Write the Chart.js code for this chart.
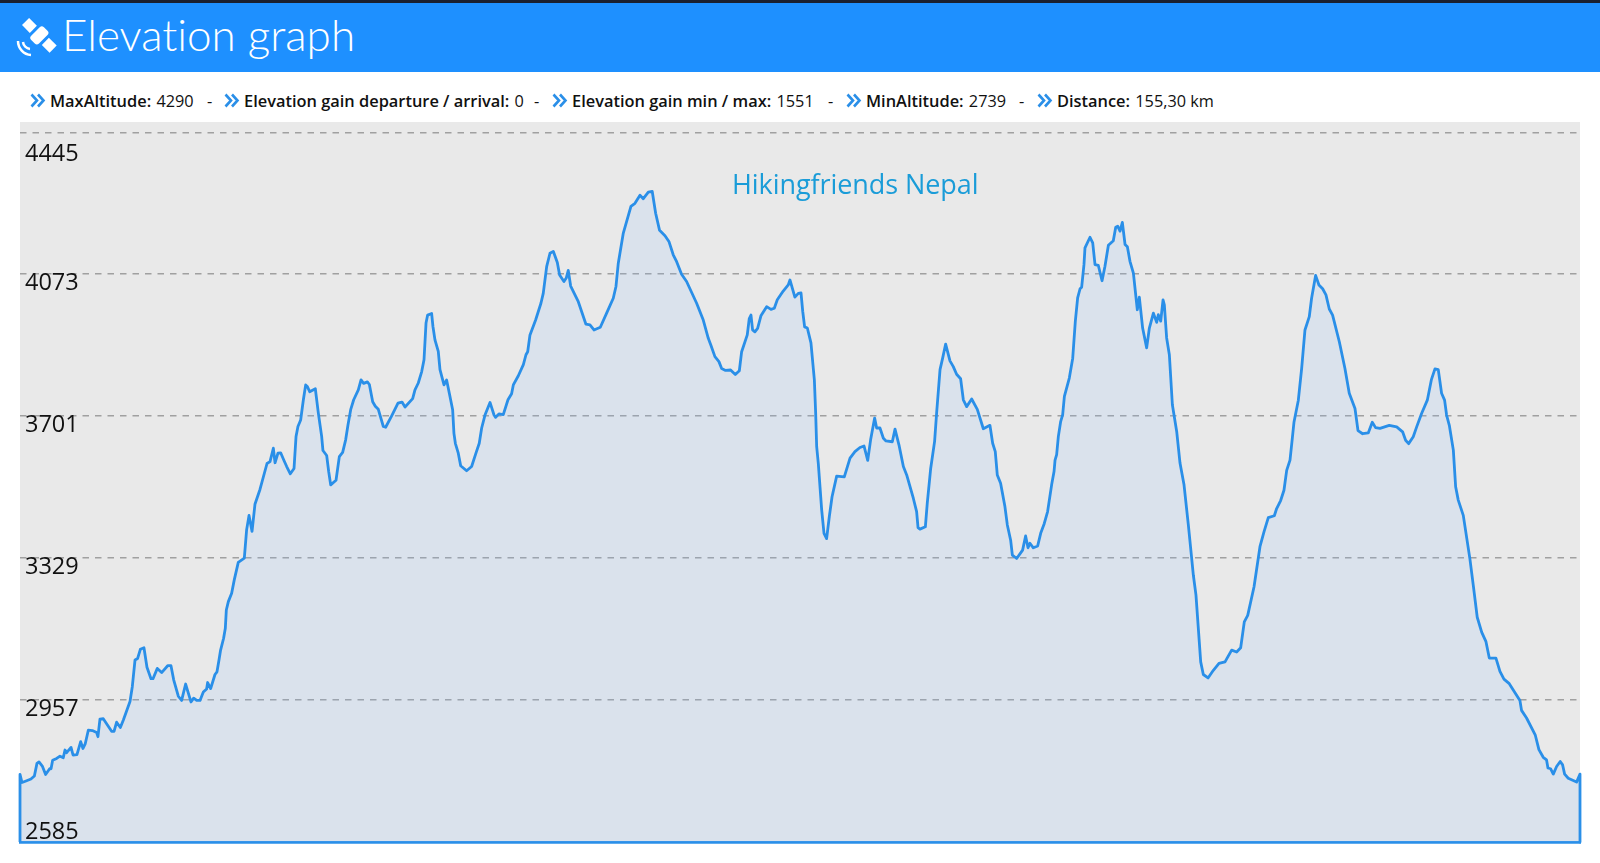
<!DOCTYPE html>
<html>
<head>
  <meta charset="UTF-8">
  <title>Elevation graph</title>
  <script src="https://cdn.jsdelivr.net/npm/chart.js"></script>
  <style>
    html, body { margin: 0; padding: 0; background: #fff; overflow: hidden; }
    body { width: 1600px; height: 863px; position: relative; font-family: "Open Sans", Arial; }
    .topbar { position: absolute; left: 0; top: 0; width: 1600px; height: 72px; background: #1e90ff; border-top: 3px solid #1a2030; box-sizing: border-box; }
    .topbar h1 { position: absolute; left: 62px; top: 3px; margin: 0; color: #fff; font: 300 44px/56px Lato, "Open Sans"; font-variant-ligatures: none; }
    .topbar svg { position: absolute; left: 15px; top: 12px; }
    .info span.item { position: absolute; top: 90px; font-size: 16.4px; line-height: 22px; white-space: nowrap; color: #111; }
    .info b { font-weight: 600; margin-right: 1px; }
    .info i { font-style: normal; font-size: 16.3px; }
    .info svg { position: absolute; top: 93px; }
    .chart-box { position: absolute; left: 16px; top: 122px; width: 1568px; height: 724px; }
    .mark { position: absolute; left: 732px; top: 166px; color: #1a9cd8; font-size: 27px; line-height: 36px; white-space: nowrap; letter-spacing: -0.07px; }
  </style>
</head>
<body>

  <div class="topbar">
    <svg width="42" height="44" viewBox="0 0 42 44" fill="#fff">
      <g transform="rotate(45 24 20)">
        <rect x="19" y="11" width="11" height="18" rx="3"/>
        <rect x="5" y="15" width="11" height="10"/>
        <rect x="33" y="15" width="11" height="10"/>
      </g>
      <path d="M3 26 a14 14 0 0 0 13 14" fill="none" stroke="#fff" stroke-width="2.5"/>
      <path d="M8 27 a8 8 0 0 0 7 7" fill="none" stroke="#fff" stroke-width="2.5"/>
    </svg>
    <h1>Elevation graph</h1>
  </div>

  <div class="info" id="info"></div>

  <div class="chart-box"><canvas id="elevationChart"></canvas></div>
  <div class="mark">Hikingfriends Nepal</div>

  <script>
    // header stats
    const statLabels = ['MaxAltitude:', 'Elevation gain departure / arrival:', 'Elevation gain min / max:', 'MinAltitude:', 'Distance:'];
    const statValues = ['4290', '0', '1551', '2739', '155,30 km'];
    const statLefts = [50, 244, 572, 866, 1057];
    const chevronLefts = [30, 224, 552, 846, 1037];
    const dashLefts = [207, 534, 828, 1019];

    // y axis
    const tickValues = [2585, 2957, 3329, 3701, 4073, 4445];
    const tickNudge = [-10, 9, 9, 9, 9, 22];

    // profile, distance in km and altitude in m
    const distanceKm = [
      0, 0, 0.20, 0.60, 1.09, 1.43, 1.69, 1.89, 2.22, 2.55, 2.95, 3.09, 3.25, 3.65, 3.98, 4.31, 4.48, 4.64, 5.08, 5.28,
      5.67, 6.04, 6.27, 6.50, 6.80, 7.20, 7.63, 7.76, 7.96, 8.29, 9.12, 9.36, 9.62, 9.99, 10.29, 10.95, 11.18, 11.45, 11.71, 11.98,
      12.34, 12.64, 13.04, 13.24, 13.67, 14.10, 14.70, 15.03, 15.30, 15.76, 16.09, 16.49, 17.02, 17.29, 17.59, 17.92, 18.25, 18.58, 18.68, 18.98,
      19.41, 19.61, 19.81, 19.97, 20.27, 20.44, 20.54, 20.74, 21.07, 21.33, 21.73, 22.33, 22.56, 22.80, 23.10, 23.39, 23.89, 24.59, 24.89, 25.22,
      25.39, 25.68, 25.95, 26.28, 26.55, 26.91, 27.28, 27.48, 27.67, 27.94, 28.21, 28.44, 28.60, 28.84, 29.40, 29.70, 30.03, 30.16, 30.53, 30.73,
      30.93, 31.46, 31.79, 32.12, 32.42, 32.65, 32.92, 33.22, 33.68, 33.95, 34.21, 34.58, 34.78, 35.11, 35.37, 35.67, 36.17, 36.40, 37.00, 37.63,
      38.03, 38.33, 39.09, 39.32, 39.65, 39.99, 40.22, 40.42, 40.58, 40.98, 41.11, 41.31, 41.64, 41.81, 42.21, 42.47, 42.74, 43.07, 43.20, 43.34,
      43.63, 43.87, 44.46, 44.96, 45.39, 45.72, 45.96, 46.29, 46.79, 47.19, 47.35, 47.68, 48.11, 48.58, 48.94, 49.11, 49.61, 50.11, 50.37, 50.54,
      50.77, 51.33, 51.86, 52.09, 52.43, 52.76, 53.09, 53.49, 53.72, 54.15, 54.38, 54.58, 54.82, 55.58, 56.34, 56.74, 57.14, 57.77, 58.40, 59.06,
      59.33, 59.56, 60.06, 60.82, 61.22, 61.72, 62.05, 62.55, 62.94, 63.28, 63.67, 64.21, 64.60, 65.03, 65.37, 65.86, 66.36, 67.36, 68.02, 68.52,
      68.78, 69.18, 69.58, 69.85, 70.24, 70.74, 71.21, 71.61, 71.84, 72.40, 72.60, 72.77, 72.93, 73.16, 73.43, 73.76, 74.33, 74.76, 75.09, 75.39,
      75.98, 76.48, 76.65, 77.14, 77.48, 77.75, 77.92, 78.11, 78.38, 78.74, 79.08, 79.21, 79.31, 79.47, 79.81, 80.04, 80.30, 80.57, 80.84, 81.30,
      82.06, 82.63, 83.12, 83.62, 84.02, 84.39, 84.68, 85.08, 85.28, 85.61, 85.95, 86.21, 86.84, 87.11, 87.50, 87.94, 88.27, 88.93, 89.26, 89.40,
      89.59, 90.13, 90.32, 90.66, 91.05, 91.25, 91.59, 91.85, 92.15, 92.58, 92.91, 93.24, 93.64, 93.91, 94.24, 94.74, 95.30, 95.90, 96.56, 96.83,
      97.09, 97.29, 97.62, 98.05, 98.29, 98.62, 98.79, 99.22, 99.81, 100.11, 100.35, 100.54, 100.88, 101.31, 101.61, 101.97, 102.30, 102.70, 102.94, 103.04,
      103.20, 103.37, 103.60, 103.80, 103.97, 104.46, 104.80, 105.06, 105.29, 105.53, 105.69, 105.92, 106.02, 106.52, 106.79, 107.02, 107.35, 107.72, 108.01, 108.35,
      108.84, 109.08, 109.28, 109.51, 109.74, 110.01, 110.24, 110.50, 110.84, 111.23, 111.43, 111.76, 112.16, 112.43, 112.83, 113.16, 113.32, 113.56, 113.79, 113.92,
      114.15, 114.42, 114.72, 115.15, 115.48, 115.88, 116.31, 116.81, 117.07, 117.54, 117.80, 118.27, 118.80, 119.36, 119.96, 120.62, 121.12, 121.52, 121.88, 122.22,
      122.85, 123.44, 123.84, 124.27, 124.87, 125.10, 125.50, 125.83, 126.10, 126.43, 126.66, 126.83, 127.26, 127.59, 127.92, 128.35, 128.58, 128.98, 129.31, 129.68,
      130.01, 130.34, 130.67, 131.34, 131.90, 132.33, 132.90, 133.20, 133.66, 134.22, 134.62, 134.95, 135.39, 136.31, 137.05, 137.64, 137.94, 138.24, 138.70, 139.04,
      139.53, 140.10, 140.50, 140.86, 141.19, 141.52, 141.82, 142.02, 142.29, 142.69, 142.92, 143.18, 143.68, 144.34, 144.68, 145.07, 145.51, 145.94, 146.27, 146.93,
      147.33, 147.73, 148.26, 149.32, 149.48, 149.98, 150.84, 151.21, 151.64, 151.97, 152.11, 152.37, 152.64, 152.97, 153.33, 153.57, 153.77, 154.13, 154.96, 155.30,
      155.30
    ];
    const altitudeM = [
      2585, 2762, 2741, 2745, 2750, 2758, 2791, 2795, 2784, 2762, 2777, 2777, 2799, 2804, 2810, 2806, 2826, 2819, 2833, 2813,
      2814, 2848, 2830, 2843, 2878, 2877, 2872, 2861, 2907, 2908, 2875, 2875, 2899, 2885, 2905, 2953, 2992, 3062, 3066, 3090,
      3094, 3043, 3013, 3013, 3040, 3029, 3047, 3047, 3010, 2967, 2956, 2999, 2952, 2962, 2956, 2956, 2978, 2986, 3003, 2987,
      3024, 3031, 3062, 3088, 3119, 3145, 3193, 3215, 3237, 3272, 3318, 3329, 3403, 3441, 3399, 3470, 3509, 3577, 3582, 3617,
      3579, 3604, 3605, 3585, 3569, 3550, 3564, 3648, 3674, 3691, 3744, 3783, 3779, 3765, 3773, 3709, 3648, 3611, 3598, 3556,
      3521, 3533, 3595, 3606, 3639, 3678, 3718, 3744, 3770, 3796, 3787, 3791, 3784, 3739, 3727, 3719, 3674, 3672, 3702, 3735,
      3738, 3725, 3747, 3770, 3788, 3818, 3849, 3945, 3966, 3970, 3936, 3901, 3871, 3823, 3783, 3796, 3761, 3718, 3656, 3630,
      3604, 3571, 3558, 3569, 3604, 3630, 3670, 3704, 3737, 3704, 3698, 3707, 3705, 3744, 3760, 3783, 3807, 3836, 3862, 3870,
      3914, 3953, 3997, 4023, 4093, 4128, 4133, 4104, 4071, 4054, 4063, 4083, 4042, 4001, 3942, 3940, 3927, 3934, 3971, 4010,
      4041, 4102, 4181, 4251, 4259, 4280, 4271, 4288, 4290, 4233, 4188, 4174, 4159, 4124, 4106, 4073, 4054, 3997, 3953, 3905,
      3887, 3857, 3844, 3826, 3821, 3822, 3810, 3820, 3870, 3914, 3957, 3966, 3927, 3922, 3931, 3964, 3988, 3981, 3984, 4006,
      4029, 4045, 4058, 4013, 4023, 4024, 3976, 3935, 3932, 3893, 3796, 3709, 3621, 3578, 3455, 3394, 3380, 3438, 3490, 3544,
      3542, 3591, 3608, 3619, 3623, 3585, 3639, 3696, 3670, 3670, 3643, 3636, 3634, 3667, 3626, 3569, 3547, 3486, 3451, 3409,
      3405, 3411, 3473, 3564, 3635, 3709, 3823, 3853, 3890, 3846, 3831, 3811, 3799, 3744, 3726, 3746, 3719, 3668, 3677, 3630,
      3608, 3547, 3525, 3464, 3416, 3376, 3337, 3328, 3350, 3387, 3356, 3368, 3356, 3361, 3394, 3420, 3451, 3521, 3556, 3586,
      3600, 3648, 3687, 3705, 3753, 3801, 3853, 3950, 4011, 4035, 4039, 4098, 4142, 4170, 4155, 4098, 4096, 4056, 4094, 4149,
      4161, 4196, 4199, 4186, 4209, 4151, 4145, 4107, 4076, 3980, 4013, 3932, 3880, 3932, 3971, 3947, 3967, 3950, 4006, 3993,
      3906, 3862, 3731, 3661, 3578, 3521, 3416, 3284, 3232, 3057, 3024, 3015, 3035, 3053, 3057, 3088, 3083, 3094, 3162, 3179,
      3254, 3359, 3398, 3435, 3440, 3459, 3480, 3507, 3559, 3586, 3643, 3686, 3743, 3826, 3927, 3962, 4010, 4070, 4045, 4035,
      4019, 3982, 3966, 3896, 3826, 3761, 3721, 3663, 3655, 3657, 3685, 3671, 3669, 3677, 3673, 3660, 3638, 3629, 3647, 3673,
      3708, 3743, 3796, 3825, 3823, 3761, 3743, 3704, 3677, 3612, 3516, 3481, 3441, 3327, 3257, 3174, 3135, 3110, 3067, 3067,
      3032, 3012, 3000, 2956, 2930, 2910, 2866, 2827, 2807, 2800, 2779, 2777, 2763, 2783, 2796, 2787, 2763, 2752, 2742, 2763,
      2585
    ];

    // 👉 header row
    const chevron = left => `<svg style="left:${left}px" width="16" height="15" viewBox="0 0 16 15" fill="none" stroke="#2a8fe8" stroke-width="2.6"><path d="M1.5 1.5 L7 7.5 L1.5 13.5"/><path d="M8 1.5 L13.5 7.5 L8 13.5"/></svg>`;
    let infoHtml = '';
    statLabels.forEach((label, i) => {
      infoHtml += chevron(chevronLefts[i]);
      infoHtml += `<span class="item" style="left:${statLefts[i]}px"><b>${label}</b> <i>${statValues[i]}</i></span>`;
    });
    dashLefts.forEach(left => {
      infoHtml += `<span class="item" style="left:${left}px">-</span>`;
    });
    document.getElementById('info').innerHTML = infoHtml;

    // labels sit inside the plot and the top and bottom ones are pushed inwards
    const insideLabels = {
      id: 'insideLabels',
      afterDatasetsDraw(chart) {
        const { ctx, chartArea, scales: { y } } = chart;
        ctx.save();
        ctx.font = '23.5px "Open Sans"';
        ctx.fillStyle = '#111';
        ctx.textAlign = 'left';
        ctx.textBaseline = 'middle';
        y.ticks.forEach((tick, i) => {
          ctx.fillText(String(tick.value), chartArea.left + 5, y.getPixelForValue(tick.value) + tickNudge[i]);
        });
        ctx.restore();
      }
    };

    new Chart(document.getElementById('elevationChart'), {
      type: 'line',
      data: {
        datasets: [{
          data: distanceKm.map((km, i) => ({ x: km, y: altitudeM[i] })),
          borderColor: '#2a8fe8',
          borderWidth: 2.8,
          borderJoinStyle: 'round',
          backgroundColor: 'rgba(133,187,253,0.15)',
          fill: 'start',
          tension: 0,
          pointRadius: 0,
          clip: 4
        }]
      },
      options: {
        responsive: true,
        maintainAspectRatio: false,
        animation: false,
        layout: { padding: { left: 4, right: 4, bottom: 4 } },
        plugins: { legend: { display: false }, tooltip: { enabled: false } },
        scales: {
          x: {
            type: 'linear',
            min: 0,
            max: 155.3,
            ticks: { display: false },
            grid: { display: false, drawTicks: false },
            border: { color: '#2a8fe8', width: 2.8 }
          },
          y: {
            min: 2585,
            max: 4472,
            afterBuildTicks: scale => { scale.ticks = tickValues.map(value => ({ value })); },
            afterFit: scale => { scale.width = 0; },
            ticks: { display: false },
            grid: { color: '#a0a0a0', lineWidth: 1.5, drawTicks: false },
            border: { display: false, dash: [6.5, 6] }
          }
        }
      },
      plugins: [insideLabels,
        {
          id: 'plotBack',
          beforeDraw(chart) {
            const { ctx, chartArea: a } = chart;
            ctx.fillStyle = '#e9e9e9';
            ctx.fillRect(a.left, 0, a.right - a.left, a.bottom);
          }
        }]
    });
  </script>

</body>
</html>
